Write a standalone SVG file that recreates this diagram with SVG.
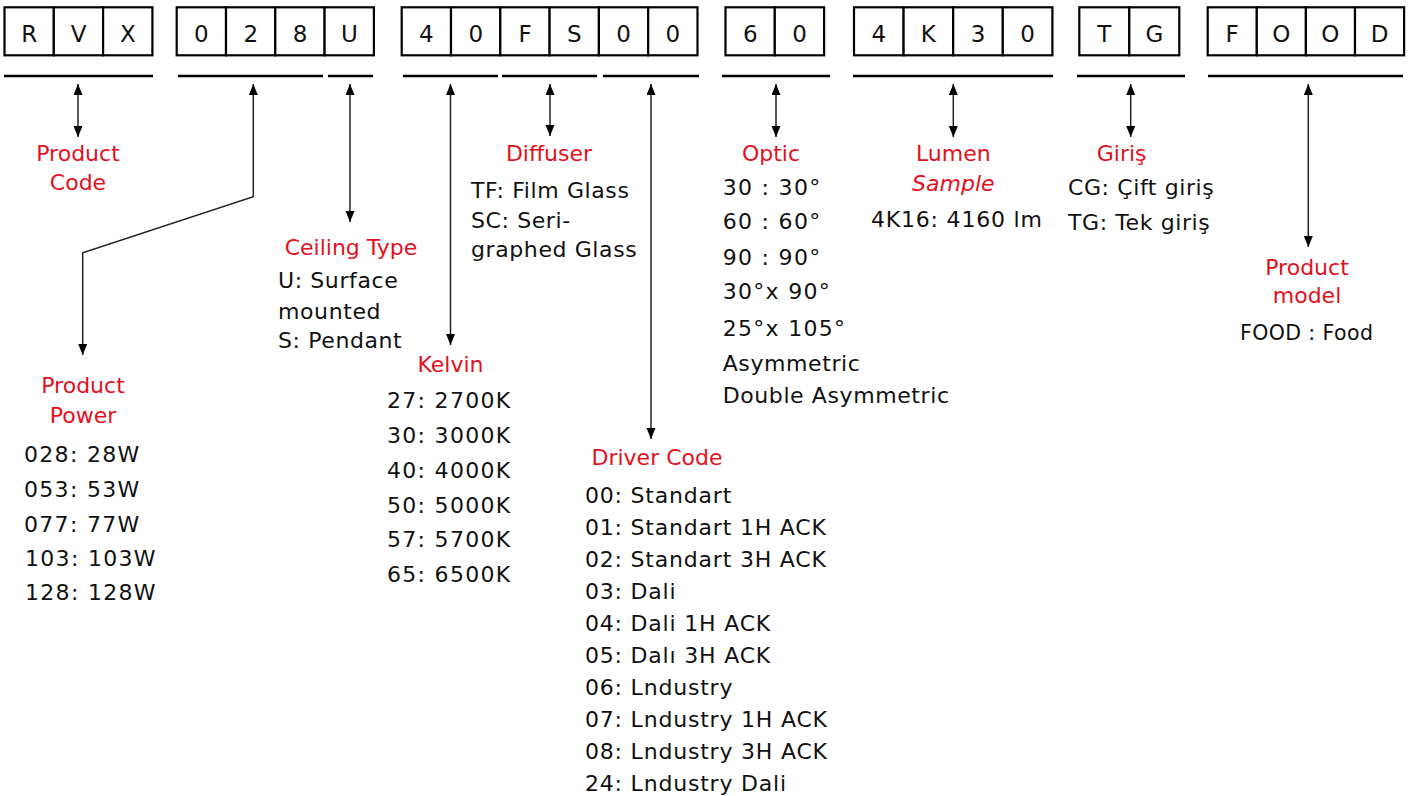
<svg xmlns="http://www.w3.org/2000/svg" width="1418" height="796" viewBox="0 0 1418 796">
<style>
text{font-family:"DejaVu Sans","Liberation Sans",sans-serif;font-size:22px;fill:#111;letter-spacing:0.6px}
.cell{fill:#fff;stroke:#000;stroke-width:2.2}
.ch{font-size:23px;text-anchor:middle;fill:#111;letter-spacing:0}
.ul{stroke:#000;stroke-width:2.5}
.red{fill:#e3101e;text-anchor:middle;letter-spacing:0}
.it{font-style:italic}
.sm{font-size:20.5px;letter-spacing:0.4px}
.n{letter-spacing:1.3px}
.d{letter-spacing:0.8px}
.conn{fill:none;stroke:#222;stroke-width:1.5}
</style>
<defs>
<marker id="ah" markerUnits="userSpaceOnUse" markerWidth="12" markerHeight="10" refX="11" refY="4.5" orient="auto-start-reverse">
<path d="M0,0 L11,4.5 L0,9 z" fill="#000"/>
</marker>
</defs>
<rect width="1418" height="796" fill="#fff"/>

<g id="code-boxes">
<g id="g-rvx">
<rect class="cell" x="4.5" y="7.3" width="49.3" height="48"/><rect class="cell" x="53.8" y="7.3" width="49.3" height="48"/><rect class="cell" x="103.1" y="7.3" width="49.3" height="48"/>
<text class="ch" x="29.2" y="42">R</text><text class="ch" x="78.5" y="42">V</text><text class="ch" x="127.8" y="42">X</text>
</g>
<g id="g-028u">
<rect class="cell" x="176.7" y="7.3" width="49.3" height="48"/><rect class="cell" x="226" y="7.3" width="49.3" height="48"/><rect class="cell" x="275.3" y="7.3" width="49.3" height="48"/><rect class="cell" x="324.6" y="7.3" width="49.3" height="48"/>
<text class="ch" x="201.4" y="42">0</text><text class="ch" x="250.7" y="42">2</text><text class="ch" x="300" y="42">8</text><text class="ch" x="349.3" y="42">U</text>
</g>
<g id="g-40fs00">
<rect class="cell" x="401.7" y="7.3" width="49.3" height="48"/><rect class="cell" x="451" y="7.3" width="49.3" height="48"/><rect class="cell" x="500.3" y="7.3" width="49.3" height="48"/><rect class="cell" x="549.6" y="7.3" width="49.3" height="48"/><rect class="cell" x="598.9" y="7.3" width="49.3" height="48"/><rect class="cell" x="648.2" y="7.3" width="49.3" height="48"/>
<text class="ch" x="426.4" y="42">4</text><text class="ch" x="475.7" y="42">0</text><text class="ch" x="525" y="42">F</text><text class="ch" x="574.3" y="42">S</text><text class="ch" x="623.6" y="42">0</text><text class="ch" x="672.9" y="42">0</text>
</g>
<g id="g-60">
<rect class="cell" x="725.5" y="7.3" width="49.3" height="48"/><rect class="cell" x="774.8" y="7.3" width="49.3" height="48"/>
<text class="ch" x="750.2" y="42">6</text><text class="ch" x="799.5" y="42">0</text>
</g>
<g id="g-4k30">
<rect class="cell" x="854" y="7.3" width="49.6" height="48"/><rect class="cell" x="903.6" y="7.3" width="49.6" height="48"/><rect class="cell" x="953.2" y="7.3" width="49.6" height="48"/><rect class="cell" x="1002.8" y="7.3" width="49.6" height="48"/>
<text class="ch" x="878.8" y="42">4</text><text class="ch" x="928.4" y="42">K</text><text class="ch" x="978" y="42">3</text><text class="ch" x="1027.6" y="42">0</text>
</g>
<g id="g-tg">
<rect class="cell" x="1079.3" y="7.3" width="50" height="48"/><rect class="cell" x="1129.3" y="7.3" width="50" height="48"/>
<text class="ch" x="1104.3" y="42">T</text><text class="ch" x="1154.3" y="42">G</text>
</g>
<g id="g-food">
<rect class="cell" x="1207.7" y="7.3" width="49.1" height="48"/><rect class="cell" x="1256.8" y="7.3" width="49.1" height="48"/><rect class="cell" x="1305.9" y="7.3" width="49.1" height="48"/><rect class="cell" x="1355" y="7.3" width="49.1" height="48"/>
<text class="ch" x="1232.2" y="42">F</text><text class="ch" x="1281.3" y="42">O</text><text class="ch" x="1330.4" y="42">O</text><text class="ch" x="1379.5" y="42">D</text>
</g>
</g>

<g id="underlines">
<line class="ul" x1="4" y1="76" x2="153" y2="76"/>
<line class="ul" x1="178" y1="76" x2="323" y2="76"/>
<line class="ul" x1="328" y1="76" x2="373" y2="76"/>
<line class="ul" x1="403" y1="76" x2="498" y2="76"/>
<line class="ul" x1="502" y1="76" x2="597" y2="76"/>
<line class="ul" x1="603" y1="76" x2="699" y2="76"/>
<line class="ul" x1="722" y1="76" x2="830" y2="76"/>
<line class="ul" x1="853" y1="76" x2="1053" y2="76"/>
<line class="ul" x1="1077" y1="76" x2="1185" y2="76"/>
<line class="ul" x1="1208" y1="76" x2="1403" y2="76"/>
</g>

<g id="connectors">
<line class="conn" x1="78" y1="84" x2="78" y2="137" marker-start="url(#ah)" marker-end="url(#ah)"/>
<polyline class="conn" points="253.3,84 253.3,196.7 82.7,252.7 82.7,355" marker-start="url(#ah)" marker-end="url(#ah)"/>
<line class="conn" x1="350" y1="84" x2="350" y2="222" marker-start="url(#ah)" marker-end="url(#ah)"/>
<line class="conn" x1="450.5" y1="84" x2="450.5" y2="345" marker-start="url(#ah)" marker-end="url(#ah)"/>
<line class="conn" x1="550" y1="84" x2="550" y2="136" marker-start="url(#ah)" marker-end="url(#ah)"/>
<line class="conn" x1="651" y1="84" x2="651" y2="439" marker-start="url(#ah)" marker-end="url(#ah)"/>
<line class="conn" x1="776" y1="84" x2="776" y2="137" marker-start="url(#ah)" marker-end="url(#ah)"/>
<line class="conn" x1="953.3" y1="84" x2="953.3" y2="137" marker-start="url(#ah)" marker-end="url(#ah)"/>
<line class="conn" x1="1130.7" y1="84" x2="1130.7" y2="137" marker-start="url(#ah)" marker-end="url(#ah)"/>
<line class="conn" x1="1308.3" y1="84" x2="1308.3" y2="247" marker-start="url(#ah)" marker-end="url(#ah)"/>
</g>

<g id="product-code">
<text class="red" x="78" y="161">Product</text>
<text class="red" x="78" y="190">Code</text>
</g>

<g id="product-power">
<text class="red" x="83" y="393">Product</text>
<text class="red" x="83" y="423">Power</text>
<text class="n" x="24" y="462">028: 28W</text>
<text class="n" x="24" y="497">053: 53W</text>
<text class="n" x="24" y="531.5">077: 77W</text>
<text class="n" x="25" y="566">103: 103W</text>
<text class="n" x="25" y="600">128: 128W</text>
</g>

<g id="ceiling-type">
<text class="red" x="351" y="255">Ceiling Type</text>
<text x="278" y="288.3">U: Surface</text>
<text x="278" y="319.3">mounted</text>
<text x="278" y="348.3">S: Pendant</text>
</g>

<g id="kelvin">
<text class="red" x="450.5" y="371.7">Kelvin</text>
<text class="n" x="387" y="408">27: 2700K</text>
<text class="n" x="387" y="443">30: 3000K</text>
<text class="n" x="387" y="478">40: 4000K</text>
<text class="n" x="387" y="512.7">50: 5000K</text>
<text class="n" x="387" y="547.3">57: 5700K</text>
<text class="n" x="387" y="581.7">65: 6500K</text>
</g>

<g id="diffuser">
<text class="red" x="549" y="161">Diffuser</text>
<text x="471" y="198">TF: Film Glass</text>
<text x="471" y="228">SC: Seri-</text>
<text x="471" y="257">graphed Glass</text>
</g>

<g id="driver-code">
<text class="red" x="657" y="465">Driver Code</text>
<text class="d" x="585" y="503">00: Standart</text>
<text class="d" x="585" y="535">01: Standart 1H ACK</text>
<text class="d" x="585" y="567">02: Standart 3H ACK</text>
<text class="d" x="585" y="599">03: Dali</text>
<text class="d" x="585" y="631">04: Dali 1H ACK</text>
<text class="d" x="585" y="663">05: Dalı 3H ACK</text>
<text class="d" x="585" y="695">06: Lndustry</text>
<text class="d" x="585" y="727">07: Lndustry 1H ACK</text>
<text class="d" x="585" y="759">08: Lndustry 3H ACK</text>
<text class="d" x="585" y="791">24: Lndustry Dali</text>
</g>

<g id="optic">
<text class="red" x="771" y="161">Optic</text>
<text class="n" x="722.7" y="195">30 : 30°</text>
<text class="n" x="722.7" y="229">60 : 60°</text>
<text class="n" x="722.7" y="265">90 : 90°</text>
<text class="n" x="722.7" y="299.3">30°x 90°</text>
<text class="n" x="722.7" y="335.7">25°x 105°</text>
<text x="722.7" y="370.7">Asymmetric</text>
<text x="722.7" y="403.3">Double Asymmetric</text>
</g>

<g id="lumen">
<text class="red" x="953.3" y="161">Lumen</text>
<text class="red it" x="953.3" y="191">Sample</text>
<text class="d" x="871" y="226.7">4K16: 4160 lm</text>
</g>

<g id="giris">
<text class="red" x="1121.7" y="161">Giriş</text>
<text x="1068" y="195">CG: Çift giriş</text>
<text x="1068" y="230">TG: Tek giriş</text>
</g>

<g id="product-model">
<text class="red" x="1307" y="275">Product</text>
<text class="red" x="1307" y="303.3">model</text>
<text class="sm" x="1240" y="340">FOOD : Food</text>
</g>
</svg>
